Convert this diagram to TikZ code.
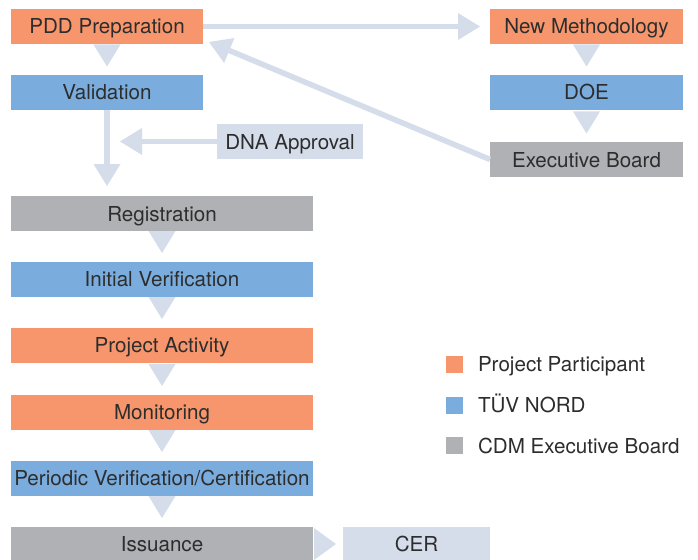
\documentclass[tikz,border=0pt]{standalone}
\usepackage{fontspec}
\setmainfont{TeX Gyre Heros}
\usetikzlibrary{arrows.meta,calc}
\definecolor{orangebox}{RGB}{247,150,108}
\definecolor{bluebox}{RGB}{122,173,222}
\definecolor{greybox}{RGB}{176,177,181}
\definecolor{arrowcol}{RGB}{213,221,234}
\definecolor{txt}{RGB}{45,45,45}
\begin{document}
\begin{tikzpicture}[x=1pt,y=-1pt,
  box/.style={rectangle, inner sep=0pt, outer sep=0pt, minimum height=35pt,
    text=txt, font=\fontsize{20.6}{24}\selectfont, text height=15pt, text depth=0pt},
  wide/.style={minimum width=302pt},
  sq/.style={rectangle, inner sep=0pt, outer sep=0pt, minimum size=17pt},
  legtext/.style={inner sep=0pt, outer sep=0pt, anchor=west, text=txt,
    font=\fontsize{20.6}{24}\selectfont, text height=15pt, text depth=0pt},
  downarr/.style={arrowcol, line width=0.01pt, shorten >=8.5pt,
    -{Triangle[width=27pt,length=22pt,line width=0pt]}},
  rightarr/.style={arrowcol, line width=0.01pt, shorten >=7pt,
    -{Triangle[width=32pt,length=22pt,line width=0pt]}},
  bigarrow/.style={arrowcol, line width=5.5pt,
    -{Triangle[width=27pt,length=22pt,line width=0pt]}}
]
\useasboundingbox (0,0) rectangle (698,559);
\fill[white] (0,0) rectangle (698,559);

% left column
\node[box, fill=orangebox, minimum width=192pt] (pdd) at (107,26.5) {PDD Preparation};
\node[box, fill=bluebox, minimum width=192pt] (val) at (107,92.5) {Validation};
\node[box, fill=arrowcol, minimum width=146pt] (dna) at (290,141.5) {DNA Approval};
\node[box, wide, fill=greybox] (reg) at (162,213.5) {Registration};
\node[box, wide, fill=bluebox] (iv) at (162,279) {Initial Verification};
\node[box, wide, fill=orangebox] (pa) at (162,345) {Project Activity};
\node[box, wide, fill=orangebox] (mon) at (162,412) {Monitoring};
\node[box, wide, fill=bluebox] (per) at (162,478) {Periodic Verification/Certification};
\node[box, wide, fill=greybox] (iss) at (162,544) {Issuance};
\node[box, fill=arrowcol, minimum width=147pt] (cer) at (416.5,544) {CER};

% right column
\node[box, fill=orangebox, minimum width=193pt] (nm) at (586.5,26.5) {New Methodology};
\node[box, fill=bluebox, minimum width=193pt] (doe) at (586.5,92.5) {DOE};
\node[box, fill=greybox, minimum width=193pt] (eb) at (586.5,159.5) {Executive Board};

% down triangles
\draw[downarr] (pdd.south) -- (val.north);
\draw[downarr] (reg.south) -- (iv.north);
\draw[downarr] (iv.south) -- (pa.north);
\draw[downarr] (pa.south) -- (mon.north);
\draw[downarr] (mon.south) -- (per.north);
\draw[downarr] (per.south) -- (iss.north);
\draw[downarr] (nm.south) -- (doe.north);
\draw[downarr] (doe.south) -- (eb.north);
\draw[rightarr] (iss.east) -- (cer.west);

% big arrows
\coordinate (ebtip) at ($(pdd.south east)+(6,-2)$);
\draw[bigarrow, shorten >=10pt] (pdd.east) -- (nm.west);
\draw[bigarrow] (eb.west) -- (ebtip);
\draw[bigarrow, shorten >=10pt] (val.south) -- (val.south |- reg.north);
\draw[bigarrow, shorten >=13pt] (dna.west) -- (val.south |- dna.west);

% legend
\node[sq, fill=orangebox] (l1) at (454.5,364) {};
\node[sq, fill=bluebox] (l2) at (454.5,405) {};
\node[sq, fill=greybox] (l3) at (454.5,445.5) {};
\node[legtext] (t1) at (478,364) {Project Participant};
\node[legtext] (t2) at (478,405) {TÜV NORD};
\node[legtext] (t3) at (478,445.5) {CDM Executive Board};
\end{tikzpicture}
\end{document}
